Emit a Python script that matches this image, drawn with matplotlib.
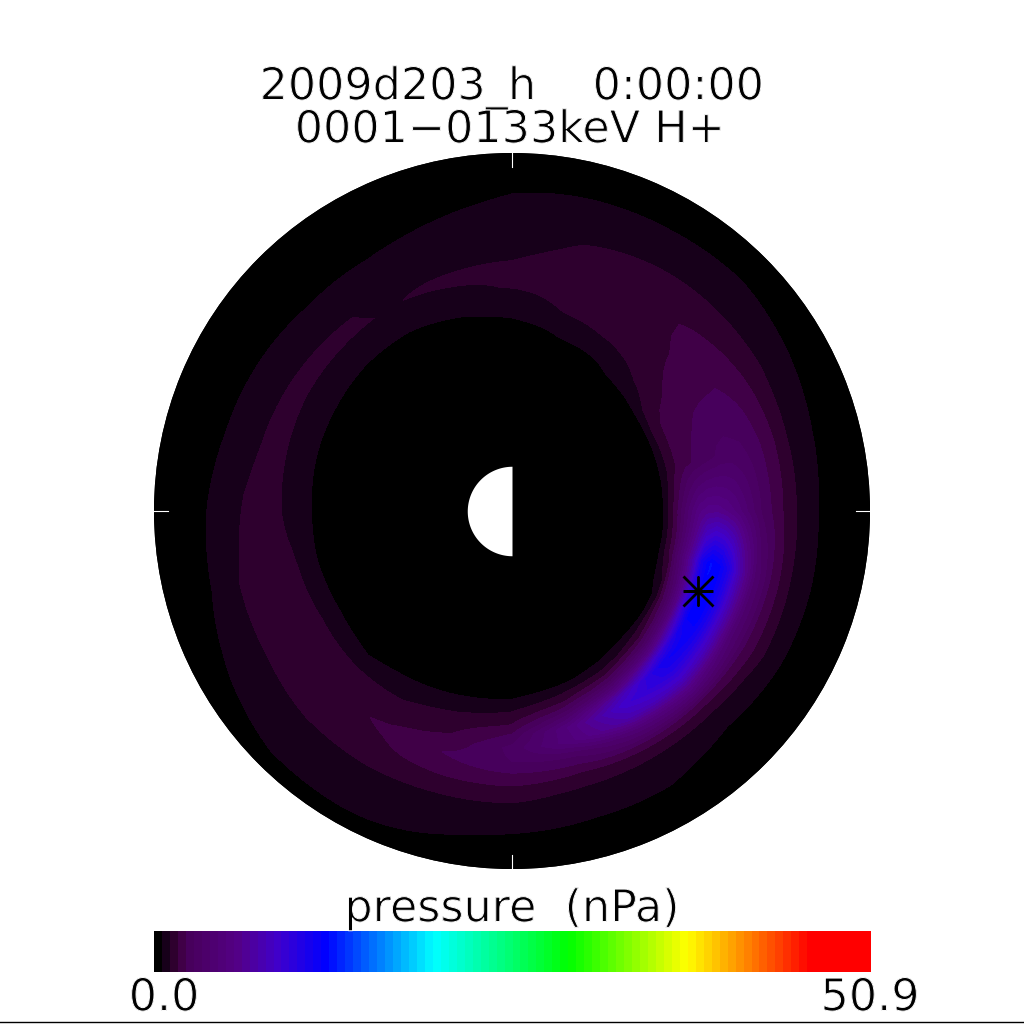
import numpy as np
import matplotlib
matplotlib.use('Agg')
import matplotlib.pyplot as plt
import matplotlib.patheffects as pe
from matplotlib.colors import LinearSegmentedColormap, BoundaryNorm

# azimuth in degrees, radius in earth radii, pressure in nPa
theta_deg = [0, 15, 30, 45, 60, 75, 90, 105, 120, 135, 150, 165, 180, 195, 210, 225, 240, 255, 270, 285, 300, 315, 330, 345]
radii = [3.0, 3.4, 3.7, 4.0, 4.2, 4.4, 4.6, 4.8, 5.0, 5.3, 5.6, 6.0, 6.4, 6.8, 7.2, 7.6, 8.0]

pressure = [
    [0, .6, 2.2, 4.3, 5.5, 6.0, 6.0, 5.6, 5.0, 3.8, 2.7, 1.8, 1.05, .6, .25, .1, 0],
    [0, .55, 1.5, 2.1, 2.3, 2.5, 2.7, 2.95, 3.05, 2.9, 2.5, 1.8, 1.05, .68, .35, .15, 0],
    [0, .4, 1.5, 1.9, 2.0, 2.1, 2.2, 2.25, 2.28, 2.3, 2.1, 1.65, 1.15, .8, .5, .2, 0],
    [0, .2, .8, 1.2, 1.35, 1.5, 1.6, 1.66, 1.7, 1.75, 1.78, 1.45, 1.13, .85, .62, .3, 0],
    [0, 0, .45, .7, .9, 1.17, 1.3, 1.38, 1.42, 1.45, 1.38, 1.28, 1.1, .85, .57, .25, 0],
    [0, 0, .1, .55, .7, .95, 1.15, 1.25, 1.3, 1.35, 1.3, 1.18, 1.05, .85, .55, .25, 0],
    [0, 0, 0, .2, .45, .65, .8, .95, 1.15, 1.2, 1.13, .95, .8, .68, .52, .25, 0],
    [0, 0, 0, .1, .3, .5, .65, .8, 1.05, 1.18, 1.1, .9, .72, .52, .3, .15, 0],
    [0, 0, 0, .05, .2, .4, .55, .75, .95, 1.12, 1.1, .9, .62, .35, .15, .05, 0],
    [0, 0, 0, .03, .15, .35, .55, .72, .9, 1.15, 1.15, .88, .6, .35, .15, .05, 0],
    [0, 0, 0, .03, .15, .4, .6, .75, .9, 1.16, 1.2, .95, .67, .4, .15, .05, 0],
    [0, 0, 0, .05, .2, .45, .62, .8, .97, 1.2, 1.25, 1.0, .73, .45, .2, .1, 0],
    [0, 0, 0, .1, .3, .5, .67, .85, 1.0, 1.25, 1.3, 1.17, .85, .58, .3, .15, 0],
    [0, 0, 0, .1, .3, .5, .65, .95, 1.2, 1.35, 1.35, 1.3, 1.07, .65, .4, .2, 0],
    [0, 0, 0, .1, .3, .5, .8, 1.05, 1.25, 1.4, 1.45, 1.35, 1.1, .9, .62, .4, 0],
    [0, 0, 0, .05, .2, .45, .6, .95, 1.25, 1.45, 1.5, 1.4, 1.2, .95, .8, .57, 0],
    [0, 0, 0, .05, .3, .6, .85, 1.05, 1.25, 1.5, 1.78, 1.6, 1.2, 1.0, .85, .6, 0],
    [0, 0, 0, .2, .45, .75, 1.05, 1.35, 1.55, 1.85, 2.3, 1.85, 1.2, .95, .67, .5, 0],
    [0, 0, 0, .2, .55, .95, 1.35, 1.75, 2.3, 3.0, 2.83, 1.95, 1.25, .85, .57, .3, 0],
    [0, 0, .1, .45, 1.0, 1.6, 2.5, 3.8, 5.2, 5.0, 3.0, 1.75, 1.05, .75, .5, .25, 0],
    [0, 0, .2, .8, 1.6, 2.8, 4.8, 7.5, 8.8, 7.5, 4.5, 1.9, .98, .72, .5, .25, 0],
    [0, 0, .45, 1.6, 3.0, 5.5, 9.0, 11.2, 10.5, 8.5, 5.5, 2.0, .95, .57, .3, .15, 0],
    [0, .1, .7, 3.0, 5.5, 9.5, 12.2, 12.0, 10.5, 7.5, 4.2, 2.26, 1.25, .65, .35, .15, 0],
    [0, .5, 2.0, 5.0, 7.5, 11.0, 12.5, 12.0, 10.5, 7.0, 4.0, 2.1, 1.15, .65, .3, .15, 0],
]

p_max = 50.9
n_colors = 90
star_theta = 336.7
star_r = 4.53

cmap = LinearSegmentedColormap.from_list('idl_rainbow', [
    (0, (0, 0, 0)), (.0112, (.09, 0, .1)), (.0225, (.18, 0, .18)),
    (.0337, (.25, 0, .28)), (.045, (.28, 0, .36)), (.11, (.33, 0, .52)), (.17, (.25, 0, .8)),
    (.237, (0, 0, 1)), (.39, (0, 1, 1)), (.58, (0, 1, 0)), (.745, (1, 1, 0)),
    (.92, (1, 0, 0)), (1, (1, 0, 0))], N=n_colors)
levels = np.linspace(0, p_max, n_colors + 1)
norm = BoundaryNorm(levels, n_colors)

fig = plt.figure(figsize=(10.24, 10.24), dpi=100)

ax = fig.add_axes([154 / 1024, 1 - 869 / 1024, 716 / 1024, 716 / 1024], projection='polar')
ax.set_facecolor('black')
th = np.radians(theta_deg + [360])
z = np.array(pressure + [pressure[0]])
# finer azimuth steps so the bands follow arcs, not chords
th_fine = np.linspace(0, 2 * np.pi, 241)
z_fine = np.array([np.interp(th_fine, th, z[:, j]) for j in range(len(radii))])
ax.contourf(th_fine, radii, z_fine, levels=levels, cmap=cmap, norm=norm)
ax.set_ylim(0, 8)
ax.set_xticks([])
ax.set_yticks([])
ax.grid(False)
ax.spines['polar'].set_visible(False)

# dayside half of the earth
day = np.linspace(np.pi / 2, 3 * np.pi / 2, 100)
ax.fill_between(day, 0, 1, color='white', lw=0)

for a in [0, 90, 180, 270]:
    ax.plot(np.radians([a, a]), [7.68, 8], color='white', lw=0.8)

ax.plot(np.radians(star_theta), star_r, '+', color='black', ms=21, mew=2)
ax.plot(np.radians(star_theta), star_r, 'x', color='black', ms=21, mew=2)
ax.set_ylim(0, 8)

cax = fig.add_axes([154 / 1024, 1 - 972 / 1024, 717 / 1024, 41 / 1024])
cax.pcolormesh(levels, [0, 1], (levels[:-1] + levels[1:])[None, :] / 2, cmap=cmap, norm=norm)
cax.set_axis_off()

# white edge over the glyphs thins them towards the original stroke weight
thin = [pe.Normal(), pe.Stroke(linewidth=0.7, foreground='white')]
font = dict(fontsize=32, ha='center', va='center', path_effects=thin)
fig.text(512 / 1024, 1 - 88 / 1024, '2009d203_h    0:00:00', **font)
fig.text(510 / 1024, 1 - 130 / 1024, '0001\u22120133keV H+', **font)
fig.text(512 / 1024, 1 - 909 / 1024, 'pressure  (nPa)', zorder=5, **font)
fig.text(164 / 1024, 1 - 998 / 1024, '0.0', **font)
fig.text(870 / 1024, 1 - 998 / 1024, '50.9', **font)
fig.add_artist(plt.Line2D([0, 1], [0.0015, 0.0015], color='black', lw=1))

fig.savefig('out.png', dpi=100)
